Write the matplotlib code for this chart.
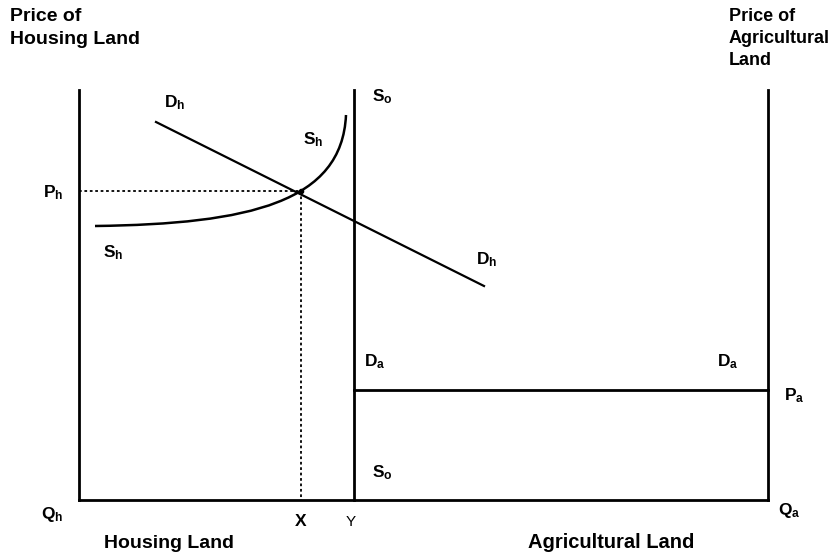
import matplotlib.pyplot as plt
from matplotlib.path import Path
from matplotlib.patches import PathPatch

plt.rcParams['font.family'] = ['Liberation Sans', 'DejaVu Sans']
plt.rcParams['mathtext.fontset'] = 'custom'
plt.rcParams['mathtext.rm'] = 'Liberation Sans:bold'
plt.rcParams['mathtext.bf'] = 'Liberation Sans:bold'
plt.rcParams['mathtext.it'] = 'Liberation Sans:bold'

# diagram coordinates (pixel-like, y grows downward)
left_axis_x = 79
split_x = 354
right_axis_x = 768
top_y = 90
base_y = 500
pa_y = 390

# housing demand line D_h
dh_x = [156, 484]
dh_y = [122, 286]

# housing supply curve S_h (start, two control points, end)
sh_x = [95, 250, 342, 346]
sh_y = [226, 224, 202, 115]

# equilibrium point
eq_x = 301
eq_y = 191

fig = plt.figure(figsize=(8.32, 5.60), dpi=100)
ax = fig.add_axes([0, 0, 1, 1])
ax.set_xlim(0, 832)
ax.set_ylim(560, 0)
ax.axis('off')

lw = 2.0
ax.plot([left_axis_x, left_axis_x], [top_y, base_y], color='black', lw=lw)
ax.plot([left_axis_x, right_axis_x], [base_y, base_y], color='black', lw=lw)
ax.plot([split_x, split_x], [top_y, base_y], color='black', lw=lw)
ax.plot([right_axis_x, right_axis_x], [top_y, base_y], color='black', lw=lw)
ax.plot([split_x, right_axis_x], [pa_y, pa_y], color='black', lw=lw)

ax.plot(dh_x, dh_y, color='black', lw=1.6)

sh_path = Path(list(zip(sh_x, sh_y)), [Path.MOVETO, Path.CURVE4, Path.CURVE4, Path.CURVE4])
ax.add_patch(PathPatch(sh_path, facecolor='none', edgecolor='black', lw=1.8))

ax.plot([left_axis_x, eq_x], [eq_y, eq_y], color='black', lw=1.3, ls=(0, (1.5, 1.5)))
ax.plot([eq_x, eq_x], [eq_y, base_y], color='black', lw=1.3, ls=(0, (1.5, 1.5)))
ax.plot([eq_x], [eq_y], 'o', color='black', ms=3)

bold = dict(fontweight='bold', color='black')
ax.text(10, 8, 'Price of\nHousing Land', va='top', ha='left', linespacing=1.45,
        fontsize=14, **bold)
ax.text(729, 8, 'Price of\nAgricultural\nLand', va='top', ha='left', linespacing=1.4,
        fontsize=13, **bold)
ax.text(104, 543, 'Housing Land', va='center', ha='left', fontsize=14, **bold)
ax.text(528, 543, 'Agricultural Land', va='center', ha='left', fontsize=14.5, **bold)

fs = 12.5
labels = [
    (r'$\mathbf{D}_{h}$', 164, 103),
    (r'$\mathbf{S}_{h}$', 303, 140),
    (r'$\mathbf{P}_{h}$', 43, 193),
    (r'$\mathbf{S}_{h}$', 103, 253),
    (r'$\mathbf{D}_{h}$', 476, 260),
    (r'$\mathbf{S}_{o}$', 372, 97),
    (r'$\mathbf{D}_{a}$', 364, 362),
    (r'$\mathbf{D}_{a}$', 717, 362),
    (r'$\mathbf{P}_{a}$', 784, 396),
    (r'$\mathbf{S}_{o}$', 372, 473),
    (r'$\mathbf{Q}_{h}$', 41, 515),
    (r'$\mathbf{Q}_{a}$', 778, 510),
]
for txt, x, y in labels:
    ax.text(x, y, txt, va='center', ha='left', fontsize=fs)

ax.text(301, 522, 'X', va='center', ha='center', fontsize=fs, **bold)
ax.text(351, 522, 'Y', va='center', ha='center', fontsize=11, color='black')

fig.savefig('out.png', dpi=100)
